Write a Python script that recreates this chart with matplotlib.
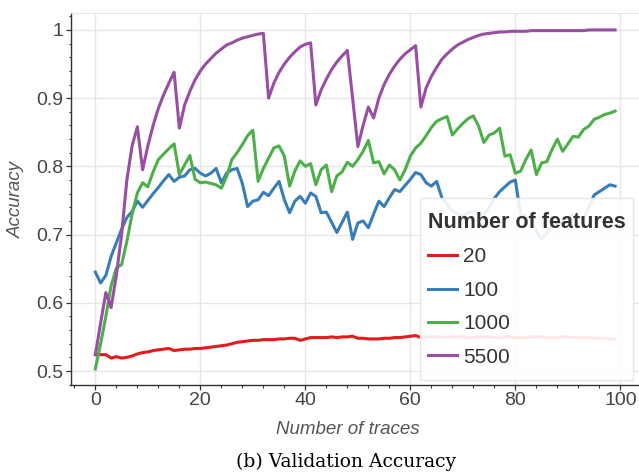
import numpy as np
import matplotlib
matplotlib.use('Agg')
import matplotlib.pyplot as plt
from matplotlib.patches import Rectangle
from matplotlib.ticker import MultipleLocator, FuncFormatter

plt.rcParams['font.family'] = ['Liberation Sans', 'DejaVu Sans']

# Données (précision de validation)
traces = np.arange(100)

acc_20 = [0.524, 0.524, 0.524, 0.519, 0.521, 0.519, 0.520, 0.522, 0.525, 0.527,
          0.528, 0.530, 0.531, 0.532, 0.533, 0.530, 0.531, 0.532, 0.532, 0.533,
          0.533, 0.534, 0.535, 0.536, 0.537, 0.538, 0.540, 0.542, 0.543, 0.544,
          0.545, 0.545, 0.546, 0.546, 0.546, 0.547, 0.547, 0.548, 0.548, 0.545,
          0.547, 0.549, 0.549, 0.549, 0.549, 0.550, 0.549, 0.550, 0.550, 0.551,
          0.548, 0.548, 0.547, 0.547, 0.547, 0.548, 0.548, 0.549, 0.549, 0.550,
          0.551, 0.552, 0.549, 0.549, 0.550, 0.550, 0.549, 0.550, 0.550, 0.551,
          0.550, 0.549, 0.549, 0.550, 0.550, 0.550, 0.549, 0.549, 0.550, 0.550,
          0.549, 0.549, 0.549, 0.550, 0.550, 0.550, 0.549, 0.549, 0.549, 0.550,
          0.550, 0.549, 0.549, 0.549, 0.549, 0.548, 0.548, 0.548, 0.547, 0.547]

acc_100 = [0.645, 0.629, 0.640, 0.668, 0.688, 0.708, 0.725, 0.734, 0.749, 0.740,
           0.750, 0.760, 0.769, 0.779, 0.788, 0.778, 0.784, 0.786, 0.795, 0.797,
           0.790, 0.786, 0.790, 0.797, 0.776, 0.790, 0.795, 0.797, 0.775, 0.741,
           0.749, 0.751, 0.762, 0.757, 0.768, 0.778, 0.751, 0.732, 0.749, 0.756,
           0.746, 0.761, 0.756, 0.732, 0.733, 0.718, 0.703, 0.718, 0.733, 0.693,
           0.717, 0.720, 0.710, 0.730, 0.749, 0.741, 0.754, 0.766, 0.763, 0.772,
           0.781, 0.791, 0.788, 0.776, 0.771, 0.778, 0.754, 0.744, 0.735, 0.730,
           0.727, 0.732, 0.734, 0.731, 0.729, 0.740, 0.753, 0.763, 0.770, 0.777,
           0.780, 0.729, 0.726, 0.724, 0.705, 0.693, 0.703, 0.712, 0.716, 0.717,
           0.725, 0.729, 0.726, 0.722, 0.740, 0.758, 0.763, 0.768, 0.773, 0.771]

acc_1000 = [0.503, 0.540, 0.580, 0.625, 0.651, 0.656, 0.690, 0.730, 0.761, 0.776,
            0.770, 0.792, 0.810, 0.818, 0.826, 0.833, 0.788, 0.802, 0.816, 0.781,
            0.776, 0.777, 0.775, 0.773, 0.768, 0.785, 0.810, 0.820, 0.832, 0.845,
            0.853, 0.778, 0.797, 0.812, 0.827, 0.830, 0.815, 0.771, 0.793, 0.808,
            0.800, 0.804, 0.773, 0.795, 0.802, 0.763, 0.786, 0.792, 0.806, 0.800,
            0.810, 0.822, 0.838, 0.805, 0.807, 0.789, 0.802, 0.795, 0.780, 0.795,
            0.815, 0.827, 0.834, 0.845, 0.857, 0.866, 0.870, 0.873, 0.846, 0.855,
            0.863, 0.870, 0.874, 0.859, 0.835, 0.846, 0.849, 0.856, 0.815, 0.817,
            0.790, 0.793, 0.810, 0.824, 0.788, 0.805, 0.807, 0.825, 0.840, 0.822,
            0.833, 0.844, 0.843, 0.854, 0.859, 0.869, 0.872, 0.876, 0.878, 0.881]

acc_5500 = [0.524, 0.570, 0.615, 0.593, 0.640, 0.700, 0.780, 0.830, 0.858, 0.795,
            0.830, 0.860, 0.885, 0.905, 0.922, 0.938, 0.856, 0.890, 0.910, 0.927,
            0.940, 0.950, 0.958, 0.966, 0.972, 0.978, 0.981, 0.985, 0.988, 0.990,
            0.992, 0.994, 0.995, 0.900, 0.922, 0.938, 0.950, 0.960, 0.968, 0.975,
            0.979, 0.981, 0.890, 0.912, 0.928, 0.942, 0.953, 0.962, 0.970, 0.900,
            0.829, 0.860, 0.887, 0.871, 0.900, 0.920, 0.935, 0.947, 0.957, 0.965,
            0.971, 0.977, 0.887, 0.915, 0.932, 0.945, 0.957, 0.965, 0.972, 0.978,
            0.982, 0.986, 0.989, 0.992, 0.994, 0.995, 0.996, 0.997, 0.997, 0.998,
            0.998, 0.998, 0.998, 0.999, 0.999, 0.999, 0.999, 0.999, 0.999, 0.999,
            0.999, 0.999, 0.999, 0.999, 1.000, 1.000, 1.000, 1.000, 1.000, 1.000]

series = [('20', acc_20, '#e41a1c'),
          ('100', acc_100, '#377eb8'),
          ('1000', acc_1000, '#4daf4a'),
          ('5500', acc_5500, '#984ea3')]

fig = plt.figure(figsize=(6.39, 4.76), dpi=100)
ax = fig.add_axes([0.1106, 0.1912, 0.889, 0.781])

for nom, valeurs, couleur in series:
    ax.plot(traces, valeurs, color=couleur, linewidth=2.2, label=nom)

ax.set_xlim(-4.7, 103.5)
ax.set_ylim(0.4795, 1.0245)

ax.xaxis.set_major_locator(MultipleLocator(20))
ax.xaxis.set_minor_locator(MultipleLocator(4))
ax.yaxis.set_major_locator(MultipleLocator(0.1))
ax.yaxis.set_minor_locator(MultipleLocator(0.02))
ax.yaxis.set_major_formatter(FuncFormatter(lambda v, p: '%g' % round(v, 2)))

ax.grid(True, which='major', color='#e6e6e6', linewidth=1)
ax.set_axisbelow(True)
for cote in ['top', 'right']:
    ax.spines[cote].set_color('#e6e6e6')
for cote in ['left', 'bottom']:
    ax.spines[cote].set_color('#333333')
    ax.spines[cote].set_linewidth(1)

ax.tick_params(which='major', length=3.6, width=0.9, color='#333333',
               labelsize=14, labelcolor='#444444')
ax.tick_params(which='minor', length=1.8, width=0.8, color='#333333')
ax.tick_params(axis='y', which='major', pad=1.7)
ax.tick_params(axis='x', which='major', pad=1.5)

ax.set_xlabel('Number of traces', fontsize=13.5, style='italic', color='#555555')
ax.set_ylabel('Accuracy', fontsize=13.5, style='italic', color='#555555')
ax.xaxis.set_label_coords(0.487, -0.097)
ax.yaxis.set_label_coords(-0.0804, 0.5)

# cadre de la légende (semi-transparent, les courbes restent visibles)
cadre = Rectangle((0.6146, 0.0135), 0.3748, 0.4895, transform=ax.transAxes,
                  facecolor='white', alpha=0.9, edgecolor='none', zorder=3)
ax.add_patch(cadre)
bord = Rectangle((0.6146, 0.0135), 0.3748, 0.4895, transform=ax.transAxes,
                 facecolor='none', edgecolor='#e6e6e6', linewidth=1, zorder=3)
ax.add_patch(bord)

leg = ax.legend(title='Number of features', loc='upper left',
                bbox_to_anchor=(0.6287, 0.465), borderaxespad=0, borderpad=0,
                fontsize=15, title_fontsize=15.5, frameon=False,
                handlelength=1.4, handletextpad=0.3, labelspacing=0.69,
                alignment='left')
leg.get_title().set_fontweight('bold')
leg.get_title().set_color('#333333')
for t in leg.get_texts():
    t.set_color('#333333')

fig.text(346 / 639, 1 - 467 / 476, '(b) Validation Accuracy', ha='center',
         va='baseline', fontsize=13.5, family='DejaVu Serif', color='black')

fig.savefig('out.png', dpi=100)
